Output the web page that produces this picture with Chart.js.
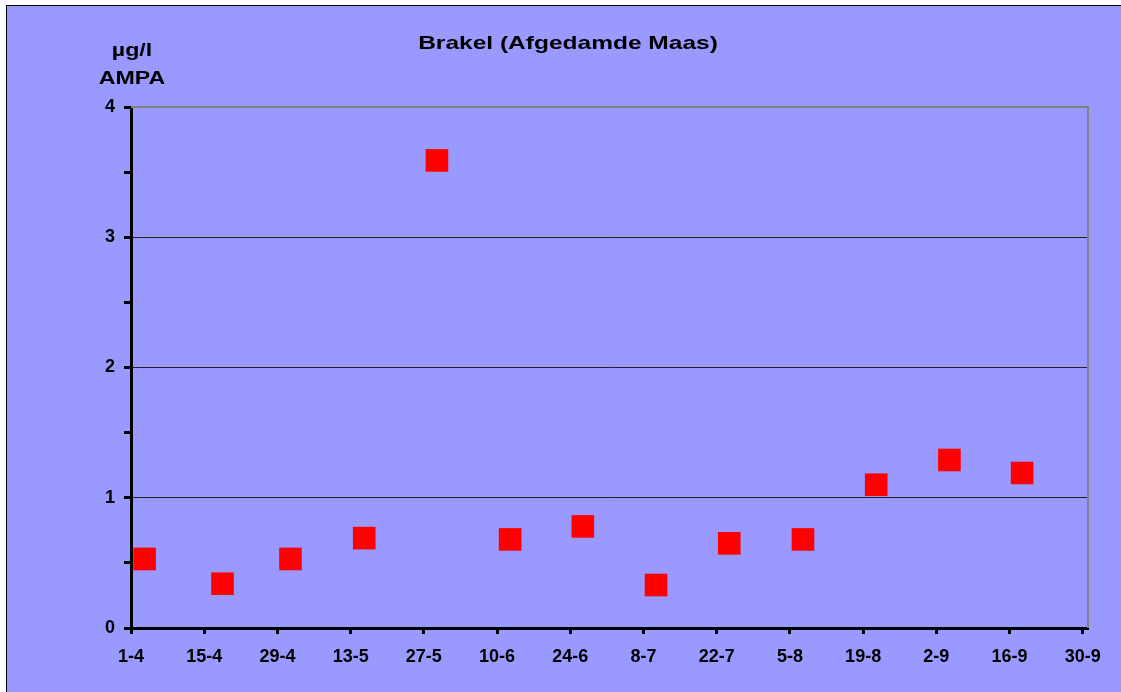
<!DOCTYPE html>
<html>
<head>
<meta charset="utf-8">
<script src="https://cdn.jsdelivr.net/npm/chart.js@4"></script>
<style>
  html, body { margin: 0; padding: 0; background: #fff; }
  #wrap { position: absolute; left: 0; top: 0; width: 1121px; height: 692px; }
</style>
</head>
<body>
<div id="wrap"><canvas id="chart1"></canvas></div>
<script>
Chart.defaults.font.family = '"Liberation Sans", Arial, sans-serif'
Chart.defaults.font.weight = 'bold'
Chart.defaults.color = '#000'

// x-axis date labels, every 14 days from 1 April
const tickLabels = ['1-4', '15-4', '29-4', '13-5', '27-5', '10-6', '24-6', '8-7', '22-7', '5-8', '19-8', '2-9', '16-9', '30-9']
// sample day (days after 1 April) and AMPA in µg/l
const sampleDays = [2.6, 17.5, 30.5, 44.6, 58.5, 72.5, 86.4, 100.4, 114.4, 128.5, 142.5, 156.5, 170.4]
const ampa = [0.53, 0.34, 0.53, 0.69, 3.59, 0.68, 0.78, 0.33, 0.65, 0.68, 1.10, 1.29, 1.19]
const yTicks = [0, 0.5, 1, 1.5, 2, 2.5, 3, 3.5, 4]

const title = 'Brakel (Afgedamde Maas)'
const unitLines = ['µg/l', 'AMPA']

const bg = '#9999FF'

const frame = {
    id: 'frame',
    beforeDraw(chart) {
        const ctx = chart.ctx
        ctx.save()
        ctx.fillStyle = '#fff'
        ctx.fillRect(0, 0, chart.width, chart.height)
        ctx.fillStyle = bg
        ctx.fillRect(7, 6, chart.width, chart.height)
        ctx.strokeStyle = '#000'
        ctx.lineWidth = 1
        ctx.strokeRect(6.5, 5.5, chart.width + 10, chart.height + 10)
        ctx.restore()
    },
    beforeDatasetsDraw(chart) {
        const { ctx, chartArea } = chart
        ctx.save()
        ctx.strokeStyle = '#808080'
        ctx.lineWidth = 2
        ctx.beginPath()
        ctx.moveTo(chartArea.left, chartArea.top)
        ctx.lineTo(chartArea.right, chartArea.top)
        ctx.lineTo(chartArea.right, chartArea.bottom)
        ctx.stroke()
        ctx.restore()
    },
    afterDraw(chart) {
        const ctx = chart.ctx
        ctx.save()
        ctx.fillStyle = '#000'
        ctx.textAlign = 'center'
        ctx.textBaseline = 'alphabetic'
        ctx.font = 'bold 19px "Liberation Sans", Arial, sans-serif'
        ctx.translate(568, 48.5)
        ctx.scale(1.29, 1)
        ctx.fillText(title, 0, 0)
        ctx.restore()

        ctx.save()
        ctx.fillStyle = '#000'
        ctx.textAlign = 'center'
        ctx.font = 'bold 19px "Liberation Sans", Arial, sans-serif'
        unitLines.forEach((t, i) => {
            ctx.save()
            ctx.translate(132, 56 + i * 27.5)
            ctx.scale(1.22, 1)
            ctx.fillText(t, 0, 0)
            ctx.restore()
        })
        ctx.restore()
    }
}

const data = {
    datasets: [{
        data: sampleDays.map((d, i) => ({ x: d, y: ampa[i] })),
        pointStyle: 'rect',
        pointRadius: 16,
        pointHoverRadius: 16,
        backgroundColor: '#FF0000',
        borderWidth: 0,
        showLine: false
    }]
}

let options = {
    responsive: true,
    maintainAspectRatio: false,
    animation: false,
    layout: {
        padding: { left: 0, top: 107, right: 33, bottom: 0 }
    },
    plugins: {
        legend: { display: false },
        tooltip: { enabled: false }
    },
    scales: {
        x: {
            type: 'linear',
            min: 0,
            max: 183,
            afterBuildTicks: scale => {
                scale.ticks = tickLabels.map((l, i) => ({ value: i * 14 }))
            },
            afterFit: scale => { scale.height = 64 },
            border: { display: true, color: '#000', width: 3 },
            grid: {
                drawOnChartArea: false,
                tickColor: '#000',
                tickWidth: 3,
                tickLength: 6
            },
            ticks: {
                autoSkip: false,
                maxRotation: 0,
                padding: 12,
                font: { size: 18, weight: 'bold' },
                callback: (v, i) => tickLabels[i]
            }
        },
        y: {
            min: 0,
            max: 4,
            afterBuildTicks: scale => {
                scale.ticks = yTicks.map(v => ({ value: v }))
            },
            afterFit: scale => { scale.width = 131 },
            border: { display: true, color: '#000', width: 3 },
            grid: {
                color: ctx => (ctx.tick && Number.isInteger(ctx.tick.value) && ctx.tick.value > 0 && ctx.tick.value < 4) ? '#222' : 'rgba(0,0,0,0)',
                lineWidth: 1,
                tickColor: '#000',
                tickWidth: 3,
                tickLength: 7
            },
            ticks: {
                padding: 9,
                font: { size: 18, weight: 'bold' },
                callback: v => Number.isInteger(v) ? String(v) : ''
            }
        }
    }
}

new Chart('chart1', { type: 'scatter', data, options, plugins: [frame] })
</script>
</body>
</html>
